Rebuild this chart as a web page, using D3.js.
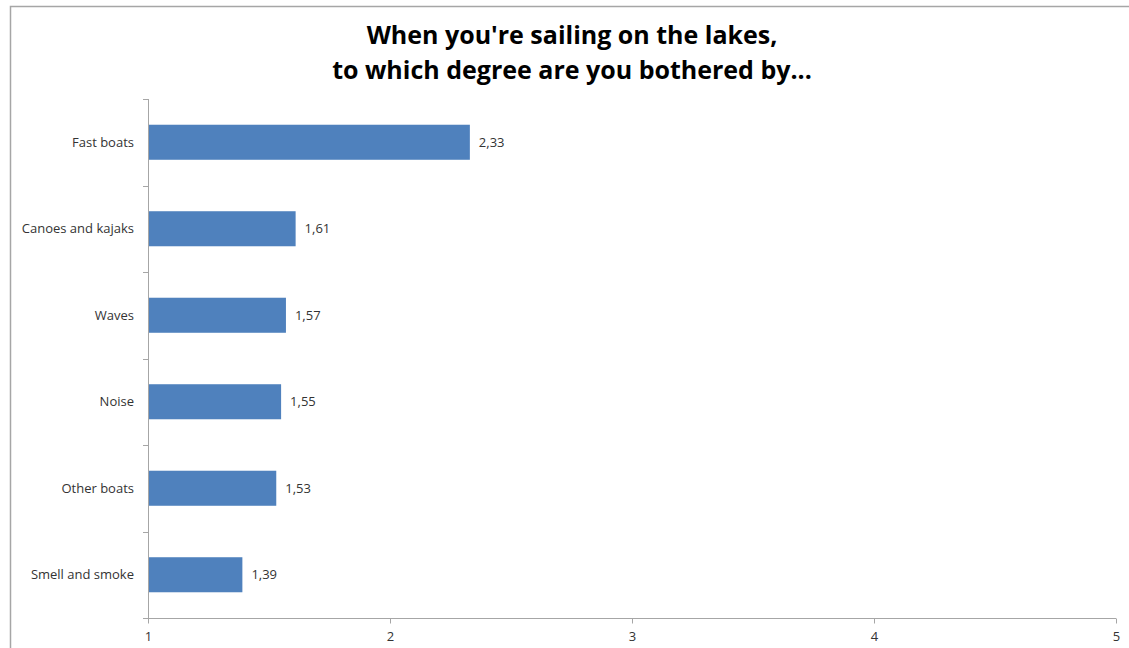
<!DOCTYPE html>
<html><head><meta charset="utf-8">
<script src="https://cdn.jsdelivr.net/npm/d3@7"></script>
<style>body{margin:0;background:#fff;}svg{display:block;}</style>
</head><body>
<svg id="c" width="1129" height="648"></svg>
<script>
const categories = ["Fast boats","Canoes and kajaks","Waves","Noise","Other boats","Smell and smoke"];
const values = [2.33,1.61,1.57,1.55,1.53,1.39];
const valueLabels = ["2,33","1,61","1,57","1,55","1,53","1,39"];
const xTicks = [1,2,3,4,5];
const titleLines = ["When you're sailing on the lakes,","to which degree are you bothered by..."];

const svg = d3.select("#c");
// outer frame
svg.append("rect").attr("x",10.5).attr("y",6.5).attr("width",1140).attr("height",660)
  .attr("fill","#fff").attr("stroke","#a6a6a6").attr("stroke-width",1.5);

const x = d3.scaleLinear().domain([1,5]).range([148,1116]);
const y = d3.scaleBand().domain(categories).range([99,618]).paddingInner(0.595).paddingOuter(0.2975);

const font = "'Open Sans', sans-serif";
const tcol = "#333";

// bars
svg.append("g").selectAll("rect").data(values).join("rect")
  .attr("x", x(1)).attr("y",(d,i)=>y(categories[i]))
  .attr("width", d=>x(d)-x(1)).attr("height", y.bandwidth())
  .attr("fill","#4f81bd");

// value labels
svg.append("g").selectAll("text").data(values).join("text")
  .attr("x", d=>x(d)+9).attr("y",(d,i)=>y(categories[i])+y.bandwidth()/2)
  .attr("dy","0.35em").attr("font-family",font).attr("font-size",13).attr("fill",tcol)
  .text((d,i)=>valueLabels[i]);

// y axis
const band = (618-99)/categories.length;
const gy = svg.append("g");
gy.append("line").attr("x1",148.5).attr("x2",148.5).attr("y1",99).attr("y2",618).attr("stroke","#a6a6a6");
gy.selectAll("line.t").data(d3.range(categories.length+1)).join("line").attr("class","t")
  .attr("x1",143).attr("x2",148).attr("y1",i=>Math.round(99+i*band)+0.5).attr("y2",i=>Math.round(99+i*band)+0.5)
  .attr("stroke","#a6a6a6");
gy.selectAll("text").data(categories).join("text")
  .attr("x",134).attr("y",d=>y(d)+y.bandwidth()/2).attr("dy","0.35em")
  .attr("text-anchor","end").attr("font-family",font).attr("font-size",13).attr("fill",tcol)
  .text(d=>d);

// x axis
const gx = svg.append("g").attr("transform","translate(0,618.5)");
gx.call(d3.axisBottom(x).tickValues(xTicks).tickSize(5).tickPadding(8).tickFormat(d3.format("d")));
gx.select(".domain").attr("stroke","#a6a6a6").attr("d","M148,0H1116");
gx.selectAll(".tick line").attr("stroke","#a6a6a6");
gx.selectAll(".tick text").attr("font-family",font).attr("font-size",13).attr("fill",tcol);

// title
svg.append("g").selectAll("text").data(titleLines).join("text")
  .attr("x",572).attr("y",(d,i)=>44+i*35).attr("text-anchor","middle")
  .attr("font-family",font).attr("font-weight","bold").attr("font-size",25).attr("fill","#000")
  .text(d=>d);
</script>
</body></html>
